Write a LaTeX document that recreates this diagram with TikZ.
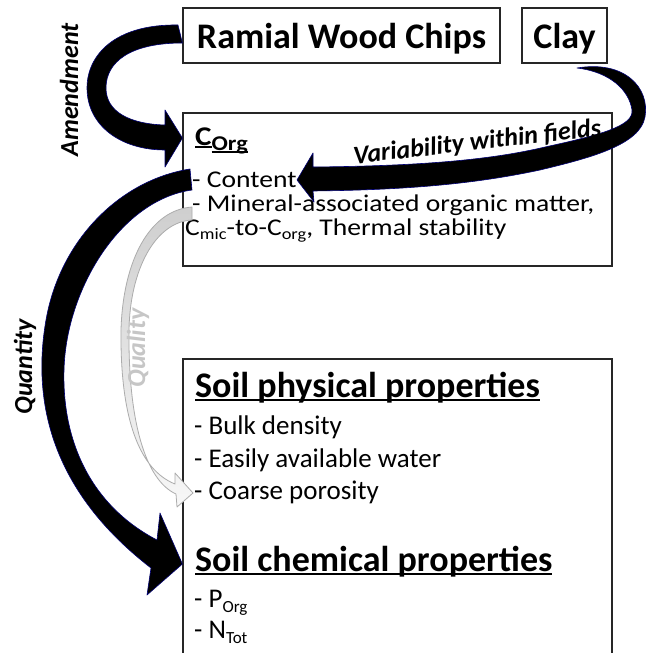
\documentclass[tikz,border=0pt]{standalone}
\usepackage{fontspec}
\setmainfont{Carlito}
\newfontfamily\stretchfont[FakeStretch=1.15]{Carlito}
\usetikzlibrary{calc}
\newcommand\myul[1]{\setbox0=\hbox{#1}\rlap{\rule[-0.12em]{\wd0}{0.065em}}\box0}
\newcommand\subA[1]{\raisebox{-4pt}{\fontsize{16}{18}\selectfont #1}}
\newcommand\subB[1]{\raisebox{-5pt}{\fontsize{17}{19}\selectfont #1}}
\tikzset{
  box/.style={draw=black!85, line width=1.2pt, inner sep=0pt, fill=none},
  bigtitle/.style={font=\fontsize{36}{40}\selectfont\bfseries, inner sep=0pt},
  bodyA/.style={font=\stretchfont\fontsize{24}{28}\selectfont, inner sep=0pt, anchor=base west},
  bodyB/.style={font=\fontsize{27}{31}\selectfont, inner sep=0pt, anchor=base west},
  lab/.style={font=\fontsize{26}{30}\selectfont\bfseries\itshape, inner sep=0pt},
  bigarrow/.style={fill=black, draw=blue!45!black, line width=0.6pt, line join=round},
  qualarrow/.style={top color=gray!38, bottom color=gray!6, draw=gray!65, line width=0.8pt, line join=round}
}
\begin{document}
\begin{tikzpicture}[x=1pt, y={(0pt,-1pt)}]
\useasboundingbox (0,0) rectangle (645,653);
\fill[white] (0,0) rectangle (645,653);

% boxes
\node[box, minimum width=317pt, minimum height=55pt] (rwc) at (341.5,35.5) {};
\node[box, minimum width=85pt, minimum height=55pt] (clay) at (564.5,35.5) {};
\node[box, minimum width=429pt, minimum height=153pt] (corg) at (397.5,189.5) {};
\node[box, minimum width=429pt, minimum height=302pt] (soil) at (397.5,510) {};

% box texts
\node[bigtitle, anchor=base] (rwct) at (341.5,48) {Ramial Wood Chips};
\node[bigtitle, anchor=base] (clayt) at (564.5,48) {Clay};

\node[font=\stretchfont\fontsize{27}{30}\selectfont\bfseries, inner sep=0pt, anchor=base west] (corgt) at (195,145)
  {\myul{C}\raisebox{-5pt}{\fontsize{21}{23}\selectfont\bfseries\myul{Org}}};
\node[bodyA] (c1) at (192,187) {- Content};
\node[bodyA] (c2) at (192,211) {- Mineral-associated organic matter,};
\node[bodyA] (c3) at (185,235) {C\subA{mic}-to-C\subA{org}, Thermal stability};

\node[bigtitle, anchor=base west] (spt) at (195,397) {\myul{Soil physical properties}};
\node[bodyB] (s1) at (194,434) {- Bulk density};
\node[bodyB] (s2) at (194,467) {- Easily available water};
\node[bodyB] (s3) at (194,499) {- Coarse porosity};
\node[bigtitle, anchor=base west] (sct) at (195,571) {\myul{Soil chemical properties}};
\node[bodyB] (s4) at (194,607) {- P\subB{Org}};
\node[bodyB] (s5) at (194,638) {- N\subB{Tot}};

% Amendment arrow: rwc -> corg
\fill[bigarrow] (178,25) .. controls (115,24) and (87,55) .. (87,88)
  .. controls (87,125) and (120,150) .. (165,150)
  -- (165,167) -- (corg.west |- 0,138) -- (165,110) -- (165,125)
  .. controls (130,124) and (106,112) .. (106,88)
  .. controls (106,62) and (130,43) .. (rwc.west |- 0,43) -- cycle;
\node[lab, rotate=90] (amend) at (69,90) {Amendment};

% Variability arrow: clay -> corg content
\fill[bigarrow] (577,68) .. controls (625,60) and (650,88) .. (645,117)
  .. controls (640,145) and (590,158) .. (540,170)
  .. controls (470,185) and (400,190) .. (313,191)
  -- (314,202) -- (297,180) -- (313,153) -- (313,167)
  .. controls (420,166) and (490,160) .. (545,147)
  .. controls (600,135) and (634,126) .. (632,110)
  .. controls (629,90) and (610,72) .. cycle;
\node[lab, rotate=6.5, anchor=base] (var) at (478,150) {Variability within fields};

% Quantity arrow: corg -> soil chemical
\fill[bigarrow] (190,169) .. controls (120,180) and (60,240) .. (46,320)
  .. controls (32,400) and (50,490) .. (151,568)
  -- (147,595) -- (soil.west |- 0,564) -- (160,513) -- (157,540)
  .. controls (90,505) and (62,440) .. (64,370)
  .. controls (66,290) and (120,200) .. (192,190) -- cycle;
\node[lab, rotate=90] (quant) at (25,367) {Quantity};

% Quality arrow: corg -> coarse porosity
\path[qualarrow] (192,207) .. controls (150,210) and (123,260) .. (121,330)
  .. controls (120,420) and (140,470) .. (175,484)
  -- (175,473) -- (193,493) -- (177,507) -- (176,494)
  .. controls (145,480) and (128,420) .. (129,330)
  .. controls (130,270) and (155,222) .. (192,220) -- cycle;
\node[lab, rotate=90, text=gray!45] (qual) at (138,348) {Quality};

\end{tikzpicture}
\end{document}
